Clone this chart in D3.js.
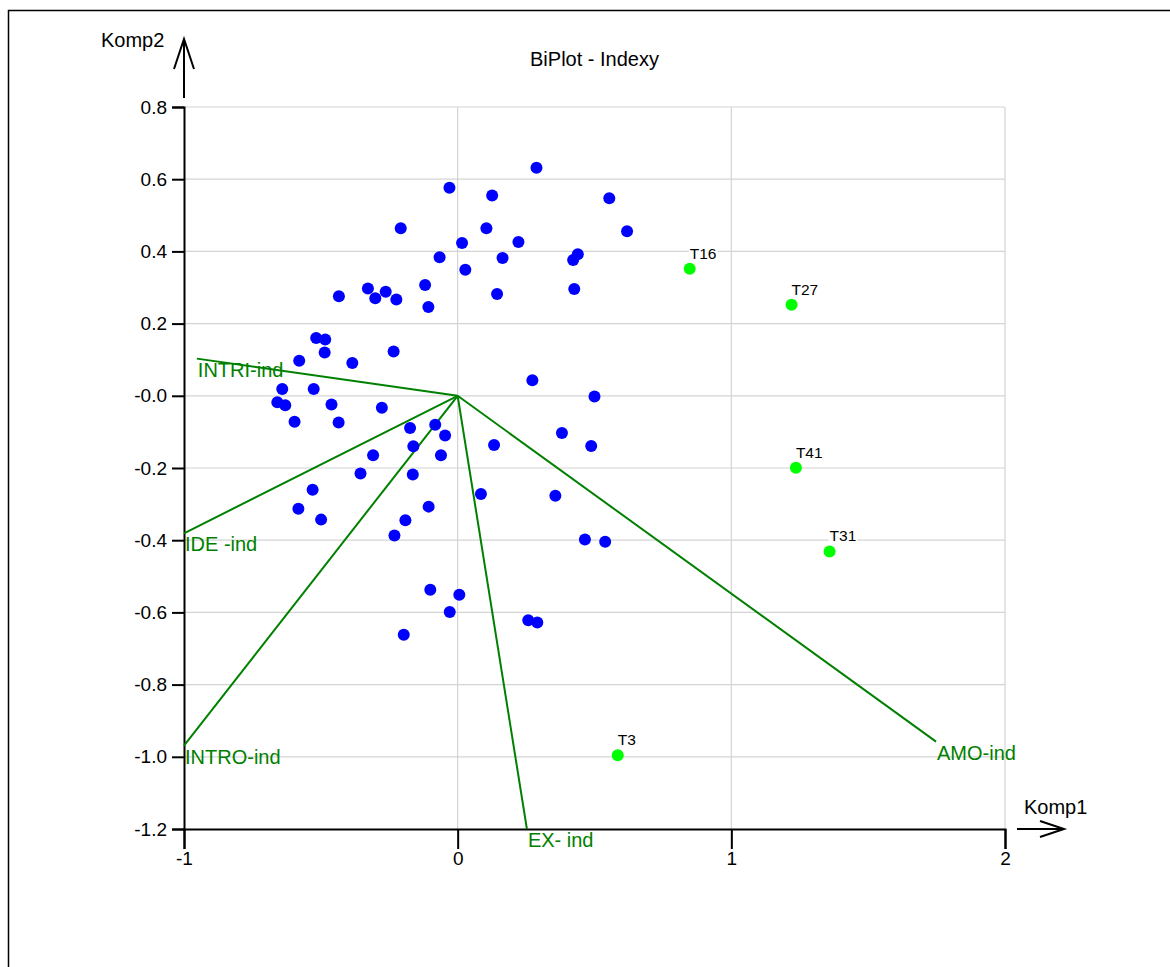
<!DOCTYPE html>
<html>
<head>
<meta charset="utf-8">
<script src="https://cdn.jsdelivr.net/npm/d3@7"></script>
<style>
  body { margin: 0; background: #fff; }
  svg text { font-family: "Liberation Sans", Arial, sans-serif; }
</style>
</head>
<body>
<div id="plot"></div>
<script>
// observations (blue)
var obsX = [0.288, -0.030, 0.126, 0.554, -0.208, 0.105, 0.619, 0.016, 0.222, -0.066,
    0.164, 0.439, 0.422, 0.028, -0.328, -0.263, -0.301, -0.224, -0.434, -0.119,
    -0.107, 0.144, 0.426, -0.517, -0.484, -0.486, -0.579, -0.385, -0.234, -0.641,
    -0.526, -0.659, -0.630, -0.461, -0.277, -0.596, -0.435, -0.174, -0.082, -0.046,
    -0.162, -0.061, -0.309, -0.355, -0.164, -0.530, -0.582, -0.499, -0.231, -0.191,
    -0.106, -0.100, 0.006, -0.029, -0.197, 0.273, 0.500, 0.381, 0.488, 0.133,
    0.085, 0.357, 0.465, 0.539, 0.258, 0.291];
var obsY = [0.632, 0.576, 0.555, 0.547, 0.464, 0.464, 0.456, 0.423, 0.426, 0.384,
    0.382, 0.392, 0.376, 0.349, 0.297, 0.288, 0.270, 0.267, 0.276, 0.307,
    0.246, 0.282, 0.296, 0.160, 0.156, 0.120, 0.097, 0.091, 0.123, 0.019,
    0.019, -0.018, -0.026, -0.024, -0.033, -0.072, -0.074, -0.089, -0.080, -0.110,
    -0.140, -0.165, -0.165, -0.215, -0.218, -0.260, -0.313, -0.343, -0.387, -0.345,
    -0.307, -0.537, -0.551, -0.599, -0.662, 0.043, -0.002, -0.103, -0.139, -0.136,
    -0.272, -0.277, -0.398, -0.404, -0.622, -0.628];

// highlighted observations (green)
var hiNames = ["T16", "T27", "T41", "T31", "T3"];
var hiX = [0.848, 1.220, 1.236, 1.359, 0.585];
var hiY = [0.352, 0.252, -0.199, -0.431, -0.996];

// variable vectors
var vecNames = ["INTRI-ind", "IDE -ind", "INTRO-ind", "EX- ind", "AMO-ind"];
var vecX = [-0.953, -1.0, -1.0, 0.253, 1.748];
var vecY = [0.103, -0.381, -0.969, -1.2, -0.958];

var xTicks = [-1, 0, 1, 2];
var yTicks = [0.8, 0.6, 0.4, 0.2, 0, -0.2, -0.4, -0.6, -0.8, -1.0, -1.2];

var svgWidth = 1170;
var svgHeight = 967;
var green = "#008000";

var svg = d3.select("#plot")
    .append("svg")
    .attr("width", svgWidth)
    .attr("height", svgHeight);

// outer frame (only top/left edges are inside the window)
svg.append("path")
    .attr("d", "M8.5,967 L8.5,10.5 L1170,10.5")
    .attr("fill", "none")
    .attr("stroke", "#000")
    .attr("stroke-width", 1.5);

var xScale = d3.scaleLinear().domain([-1, 2]).range([184, 1005]);
var yScale = d3.scaleLinear().domain([-1.2, 0.8]).range([829, 107]);

// grid
svg.append("g")
    .selectAll("line")
    .data(yTicks.filter(d => d > -1.2))
    .enter()
    .append("line")
    .attr("x1", xScale(-1))
    .attr("x2", xScale(2))
    .attr("y1", d => yScale(d))
    .attr("y2", d => yScale(d))
    .attr("stroke", "#d4d4d4")
    .attr("stroke-width", 1.2);

svg.append("g")
    .selectAll("line")
    .data(xTicks.filter(d => d > -1))
    .enter()
    .append("line")
    .attr("x1", d => xScale(d))
    .attr("x2", d => xScale(d))
    .attr("y1", yScale(0.8))
    .attr("y2", yScale(-1.2))
    .attr("stroke", "#d4d4d4")
    .attr("stroke-width", 1.2);

// axes (plain hyphen for the minus sign, like the original)
var fmtY = function (d) {
    if (d === 0) return "-0.0";
    return d3.format(".1f")(d).replace("\u2212", "-");
};
var fmtX = function (d) {
    return d3.format("d")(d).replace("\u2212", "-");
};

var leftAxis = d3.axisLeft(yScale)
    .tickValues(yTicks)
    .tickFormat(fmtY)
    .tickSize(12)
    .tickPadding(5);

var bottomAxis = d3.axisBottom(xScale)
    .tickValues(xTicks)
    .tickFormat(fmtX)
    .tickSize(20)
    .tickPadding(3);

var yAxisG = svg.append("g")
    .attr("transform", `translate(${xScale(-1)}, 0)`)
    .call(leftAxis);

var xAxisG = svg.append("g")
    .attr("transform", `translate(0, ${yScale(-1.2)})`)
    .call(bottomAxis);

[yAxisG, xAxisG].forEach(function (g) {
    g.selectAll("path.domain").attr("stroke", "#000").attr("stroke-width", 2);
    g.selectAll(".tick line").attr("stroke", "#000").attr("stroke-width", 2);
    g.selectAll(".tick text")
        .attr("fill", "#000")
        .style("font-size", "19px")
        .style("font-family", '"Liberation Sans", Arial, sans-serif');
});

// axis arrows
var ax = xScale(-1);
var ay = yScale(-1.2);
svg.append("path")
    .attr("d", `M${ax},98 L${ax},39 M${ax - 10},69 L${ax},39 L${ax + 10},69`)
    .attr("fill", "none")
    .attr("stroke", "#000")
    .attr("stroke-width", 2);

svg.append("path")
    .attr("d", `M1017,${ay} L1064,${ay} M1040,${ay - 8} L1064,${ay} L1040,${ay + 8}`)
    .attr("fill", "none")
    .attr("stroke", "#000")
    .attr("stroke-width", 2);

svg.append("text")
    .attr("x", 101)
    .attr("y", 47)
    .style("font-size", "20px")
    .attr("fill", "#000")
    .text("Komp2");

svg.append("text")
    .attr("x", 1024)
    .attr("y", 814)
    .style("font-size", "20px")
    .attr("fill", "#000")
    .text("Komp1");

// title
svg.append("text")
    .attr("x", (xScale(-1) + xScale(2)) / 2)
    .attr("y", 66)
    .attr("text-anchor", "middle")
    .style("font-size", "20px")
    .attr("fill", "#000")
    .text("BiPlot - Indexy");

// vectors
var vecData = vecNames.map((n, i) => ({ name: n, x: vecX[i], y: vecY[i] }));

svg.append("g")
    .selectAll("line")
    .data(vecData)
    .enter()
    .append("line")
    .attr("x1", xScale(0))
    .attr("y1", yScale(0))
    .attr("x2", d => xScale(d.x))
    .attr("y2", d => yScale(d.y))
    .attr("stroke", green)
    .attr("stroke-width", 2);

// observations
var obsData = obsX.map((x, i) => ({ x: x, y: obsY[i] }));

svg.append("g")
    .selectAll("circle")
    .data(obsData)
    .enter()
    .append("circle")
    .attr("cx", d => xScale(d.x))
    .attr("cy", d => yScale(d.y))
    .attr("r", 6)
    .attr("fill", "#0000ff");

// vector labels
svg.append("g")
    .selectAll("text")
    .data(vecData)
    .enter()
    .append("text")
    .attr("x", d => xScale(d.x) + 1)
    .attr("y", d => yScale(d.y) + 18)
    .style("font-size", "20px")
    .attr("fill", green)
    .text(d => d.name);

// highlighted observations
var hiData = hiNames.map((n, i) => ({ name: n, x: hiX[i], y: hiY[i] }));

svg.append("g")
    .selectAll("circle")
    .data(hiData)
    .enter()
    .append("circle")
    .attr("cx", d => xScale(d.x))
    .attr("cy", d => yScale(d.y))
    .attr("r", 6)
    .attr("fill", "#00ff00");

var hiLabels = svg.append("g")
    .selectAll("g")
    .data(hiData)
    .enter()
    .append("g");

hiLabels.append("text")
    .attr("x", d => xScale(d.x))
    .attr("y", d => yScale(d.y) - 10)
    .style("font-size", "15.5px")
    .attr("fill", "#000")
    .text(d => d.name);

// white box behind the point labels
hiLabels.each(function () {
    var g = d3.select(this);
    var bb = g.select("text").node().getBBox();
    g.insert("rect", "text")
        .attr("x", bb.x - 1)
        .attr("y", bb.y + 2)
        .attr("width", bb.width + 2)
        .attr("height", bb.height - 3)
        .attr("fill", "#fff");
});
</script>
</body>
</html>
